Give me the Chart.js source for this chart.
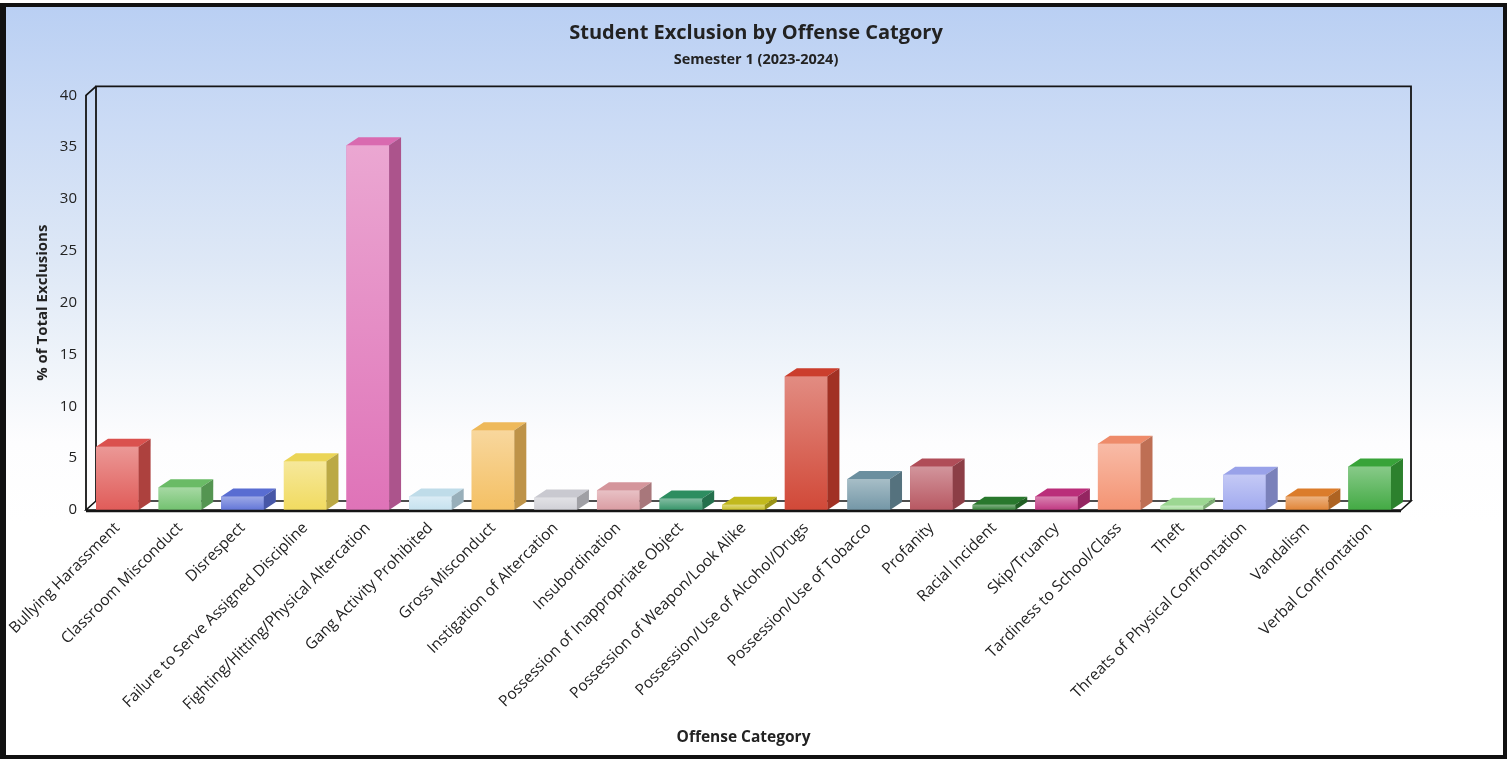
<!DOCTYPE html>
<html>
<head>
<meta charset="utf-8">
<title>Student Exclusion by Offense Catgory</title>
<script src="https://cdn.jsdelivr.net/npm/chart.js@4.4.1/dist/chart.umd.min.js"></script>
<style>
    html, body { margin: 0; padding: 0; background: #fff; }
    #wrap { position: relative; width: 1512px; height: 761px; overflow: hidden; }
    #bg {
        position: absolute; left: 0; top: 3px; width: 1507px; height: 756px;
        background: linear-gradient(to bottom, #b9cff3 0px, #cbdbf5 120px, #dee8f6 260px, #eff4fa 360px, #fdfdfe 440px, #ffffff 520px);
    }
    #exclusionChart { position: absolute; left: 0; top: 0; }
    #frame {
        position: absolute; left: 0; top: 3px; width: 1507px; height: 756px;
        box-sizing: border-box; border: 4px solid #111; border-left-width: 6px;
        pointer-events: none;
    }
</style>
</head>
<body>
<div id="wrap">
    <div id="bg"></div>
    <canvas id="exclusionChart" width="1512" height="761"></canvas>
    <div id="frame"></div>
</div>
<script>
const categories = [
    "Bullying Harassment",
    "Classroom Misconduct",
    "Disrespect",
    "Failure to Serve Assigned Discipline",
    "Fighting/Hitting/Physical Altercation",
    "Gang Activity Prohibited",
    "Gross Misconduct",
    "Instigation of Altercation",
    "Insubordination",
    "Possession of Inappropriate Object",
    "Possession of Weapon/Look Alike",
    "Possession/Use of Alcohol/Drugs",
    "Possession/Use of Tobacco",
    "Profanity",
    "Racial Incident",
    "Skip/Truancy",
    "Tardiness to School/Class",
    "Theft",
    "Threats of Physical Confrontation",
    "Vandalism",
    "Verbal Confrontation"
];

// % of total exclusions per offense
const exclusionPct = [6.1, 2.2, 1.3, 4.7, 35.2, 1.3, 7.7, 1.2, 1.9, 1.1, 0.5, 12.9, 3.0, 4.2, 0.5, 1.3, 6.4, 0.4, 3.4, 1.3, 4.2];

const yTickValues = [0, 5, 10, 15, 20, 25, 30, 35, 40];

const barColors = [
    "#de5350", "#6cbf68", "#5b6fd6", "#f0d958", "#dd6cb4", "#c3e0ee", "#f3bd5c",
    "#cdcdd4", "#d8989e", "#2e9062", "#c6bd1e", "#cf3f2e", "#6d92a2", "#b44f5a",
    "#2a7a2e", "#be2f7c", "#f38e6c", "#9fdb95", "#9ca5ee", "#df7f2c", "#39a63a"
];

// depth of the 3D box and of each bar
const WALL_DX = 10, WALL_DY = -9;
const BAR_DX = 12, BAR_DY = -8;

const FONT = "'Open Sans', 'Noto Sans', sans-serif";

function hexToRgb(hex) {
    const n = parseInt(hex.slice(1), 16);
    return [(n >> 16) & 255, (n >> 8) & 255, n & 255];
}

// amt > 0 mixes towards white, amt < 0 darkens
function shade(hex, amt) {
    const f = c => amt >= 0 ? Math.round(c + (255 - c) * amt) : Math.round(c * (1 + amt));
    const [r, g, b] = hexToRgb(hex);
    return `rgb(${f(r)},${f(g)},${f(b)})`;
}

const box3d = {
    id: "box3d",
    beforeDatasetsDraw(chart) {
        const { ctx, chartArea } = chart;
        const { left, right, top, bottom } = chartArea;
        ctx.save();
        ctx.strokeStyle = "#151515";
        ctx.lineWidth = 1.6;

        // floor
        ctx.beginPath();
        ctx.moveTo(left, bottom);
        ctx.lineTo(right, bottom);
        ctx.lineTo(right + WALL_DX, bottom + WALL_DY);
        ctx.lineTo(left + WALL_DX, bottom + WALL_DY);
        ctx.closePath();
        ctx.fillStyle = "#fff";
        ctx.fill();
        ctx.stroke();

        // back wall
        ctx.lineWidth = 1.8;
        ctx.beginPath();
        ctx.moveTo(left + WALL_DX, bottom + WALL_DY);
        ctx.lineTo(left + WALL_DX, top + WALL_DY);
        ctx.lineTo(right + WALL_DX, top + WALL_DY);
        ctx.lineTo(right + WALL_DX, bottom + WALL_DY);
        ctx.stroke();

        // front value axis
        ctx.beginPath();
        ctx.moveTo(left, bottom);
        ctx.lineTo(left, top);
        ctx.lineTo(left + WALL_DX, top + WALL_DY);
        ctx.stroke();
        ctx.restore();
    },
    afterDatasetsDraw(chart) {
        const { ctx, chartArea } = chart;
        const meta = chart.getDatasetMeta(0);
        ctx.save();
        meta.data.forEach((bar, i) => {
            const { x, y, base, width } = bar.getProps(["x", "y", "base", "width"], true);
            const l = x - width / 2, r = x + width / 2;
            const col = barColors[i];

            // front face
            const g = ctx.createLinearGradient(0, y, 0, base);
            g.addColorStop(0, shade(col, 0.4));
            g.addColorStop(1, shade(col, 0.05));
            ctx.fillStyle = g;
            ctx.fillRect(l, y, width, base - y);

            // top face
            ctx.beginPath();
            ctx.moveTo(l, y);
            ctx.lineTo(r, y);
            ctx.lineTo(r + BAR_DX, y + BAR_DY);
            ctx.lineTo(l + BAR_DX, y + BAR_DY);
            ctx.closePath();
            ctx.fillStyle = shade(col, -0.02);
            ctx.fill();

            // side face
            ctx.beginPath();
            ctx.moveTo(r, y);
            ctx.lineTo(r + BAR_DX, y + BAR_DY);
            ctx.lineTo(r + BAR_DX, base + BAR_DY);
            ctx.lineTo(r, base);
            ctx.closePath();
            ctx.fillStyle = shade(col, -0.22);
            ctx.fill();
        });

        // front edge of the floor
        ctx.strokeStyle = "#151515";
        ctx.lineWidth = 2.5;
        ctx.beginPath();
        ctx.moveTo(chartArea.left, chartArea.bottom + 1);
        ctx.lineTo(chartArea.right, chartArea.bottom + 1);
        ctx.stroke();
        ctx.restore();
    }
};

function renderChart() {
    const canvas = document.getElementById("exclusionChart");
    if (!canvas) return;

    new Chart(canvas.getContext("2d"), {
        type: "bar",
        data: {
            labels: categories,
            datasets: [{
                label: "% of Total Exclusions",
                data: exclusionPct,
                backgroundColor: barColors,
                borderWidth: 0,
                barPercentage: 0.68,
                categoryPercentage: 1
            }]
        },
        plugins: [box3d],
        options: {
            responsive: false,
            animation: false,
            layout: { padding: { top: 8, right: 8, bottom: 8, left: 8 } },
            plugins: {
                legend: { display: false },
                tooltip: { enabled: false },
                title: {
                    display: true,
                    text: "Student Exclusion by Offense Catgory",
                    color: "#222",
                    font: { family: FONT, size: 20, weight: "bold" },
                    padding: { top: 13, bottom: 3 }
                },
                subtitle: {
                    display: true,
                    text: "Semester 1 (2023-2024)",
                    color: "#222",
                    font: { family: FONT, size: 14.5, weight: "bold" },
                    padding: { top: 3, bottom: 27 }
                }
            },
            scales: {
                x: {
                    offset: true,
                    grid: { display: false, drawTicks: false },
                    border: { display: false },
                    ticks: {
                        autoSkip: false,
                        minRotation: 45,
                        maxRotation: 45,
                        padding: 9,
                        color: "#222",
                        font: { family: FONT, size: 15.5 }
                    },
                    title: {
                        display: true,
                        text: "Offense Category",
                        color: "#222",
                        font: { family: FONT, size: 15.5, weight: "bold" },
                        padding: { top: 4, bottom: 6 }
                    },
                    afterFit(scale) {
                        scale.height = 243;
                        scale.paddingLeft = 0;
                        scale.paddingRight = 0;
                    }
                },
                y: {
                    min: 0,
                    max: 40,
                    grid: { display: false, drawTicks: false },
                    border: { display: false },
                    ticks: {
                        padding: 9,
                        color: "#222",
                        font: { family: FONT, size: 15 }
                    },
                    afterBuildTicks(scale) {
                        scale.ticks = yTickValues.map(v => ({ value: v }));
                    },
                    title: {
                        display: true,
                        text: "% of Total Exclusions",
                        color: "#222",
                        font: { family: FONT, size: 15, weight: "bold" },
                        padding: { top: 26, bottom: 6 }
                    },
                    afterFit(scale) {
                        scale.width = 78;
                    }
                },
                yRight: {
                    position: "right",
                    display: true,
                    grid: { display: false, drawTicks: false },
                    border: { display: false },
                    ticks: { display: false },
                    afterFit(scale) {
                        scale.width = 103;
                    }
                }
            }
        }
    });
}

document.addEventListener("DOMContentLoaded", () => {
    renderChart();
});
</script>
</body>
</html>
